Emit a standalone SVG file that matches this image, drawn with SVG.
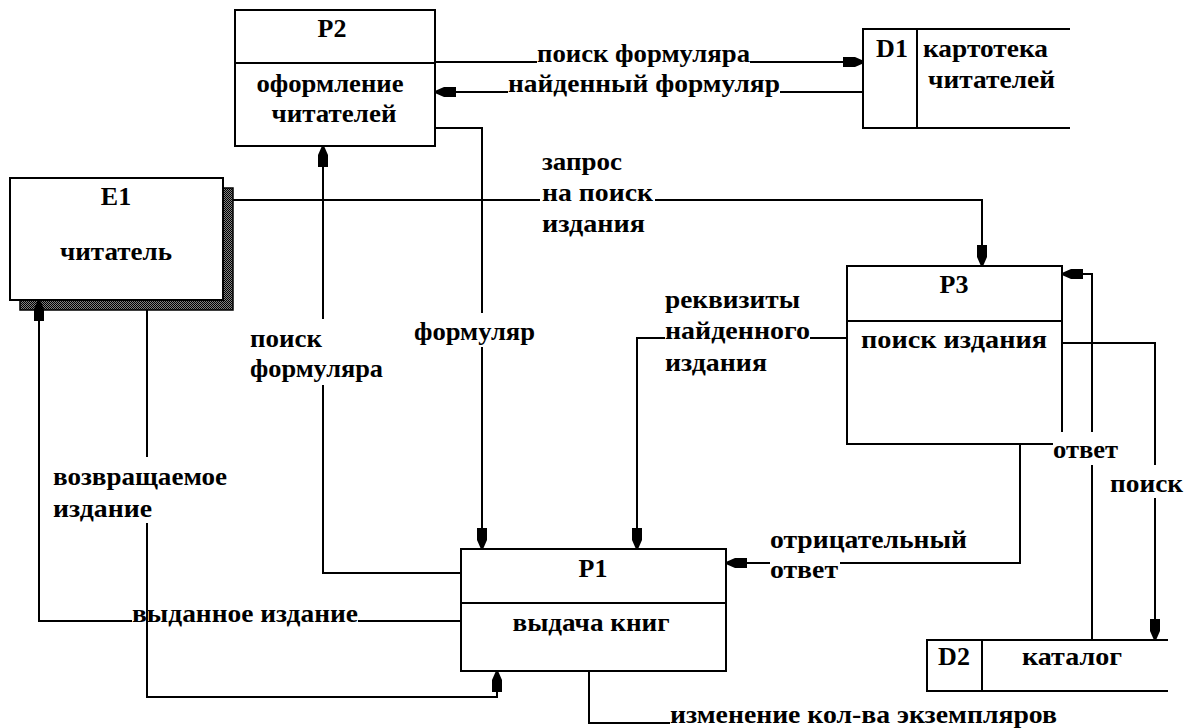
<svg xmlns="http://www.w3.org/2000/svg" width="1186" height="728" viewBox="0 0 1186 728">
  <defs>
    <style>
      .box { fill: none; stroke: #000; stroke-width: 2; }
      .ln { fill: none; stroke: #000; stroke-width: 2; stroke-linecap: butt; }
      .arr { marker-end: url(#tack); }
      .c { text-anchor: middle; }
    </style>
    <!-- blunt filled arrowhead used by every data flow -->
    <marker id="tack" viewBox="-21 -6 22 12" refX="0" refY="0" markerWidth="22" markerHeight="12" markerUnits="userSpaceOnUse" orient="auto">
      <path d="M0,-1.5 L-8,-5 L-20,-5 L-20,5 L-8,5 L0,1.5 Z" fill="#000"/>
    </marker>
    <!-- dithered fill for the external entity shadow -->
    <pattern id="dither" width="2" height="2" patternUnits="userSpaceOnUse">
      <rect width="2" height="2" fill="#808080"/>
      <rect width="1" height="1" fill="#000"/>
      <rect x="1" y="1" width="1" height="1" fill="#000"/>
    </pattern>
  </defs>

  <rect width="1186" height="728" fill="#fff"/>

  <g font-family="Liberation Serif, DejaVu Serif, serif" font-weight="bold" font-size="26" fill="#000">

  <!-- process P2 -->
  <g id="P2">
    <rect class="box" x="235" y="10" width="200" height="136"/>
    <line class="box" x1="235" y1="63" x2="435" y2="63"/>
    <text class="c" x="332" y="37">Р2</text>
    <text class="c" x="330" y="92" textLength="147" lengthAdjust="spacingAndGlyphs">оформление</text>
    <text class="c" x="334" y="122" textLength="125" lengthAdjust="spacingAndGlyphs">читателей</text>
  </g>

  <!-- data store D1 -->
  <g id="D1">
    <path class="box" d="M1070,29 H863 V128 H1070 M917,29 V128"/>
    <text class="c" x="892" y="57">D1</text>
    <text x="923" y="57" textLength="125" lengthAdjust="spacingAndGlyphs">картотека</text>
    <text x="928" y="88" textLength="127" lengthAdjust="spacingAndGlyphs">читателей</text>
  </g>

  <!-- external entity E1 -->
  <g id="E1">
    <path d="M223,188 H233 V310 H20 V300 H223 Z" fill="url(#dither)" stroke="#000" stroke-width="1.5"/>
    <rect class="box" x="10" y="178" width="213" height="122" fill="#fff"/>
    <text class="c" x="116" y="205">E1</text>
    <text class="c" x="116" y="260" textLength="112" lengthAdjust="spacingAndGlyphs">читатель</text>
  </g>

  <!-- process P3 (corner left open under the "ответ" label) -->
  <g id="P3">
    <path class="box" d="M1062,432 V266 H847 V444 H1053"/>
    <line class="box" x1="847" y1="321" x2="1062" y2="321"/>
    <text class="c" x="954" y="293">Р3</text>
    <text class="c" x="954" y="348" textLength="186" lengthAdjust="spacingAndGlyphs">поиск издания</text>
  </g>

  <!-- process P1 -->
  <g id="P1">
    <rect class="box" x="461" y="549" width="265" height="122"/>
    <line class="box" x1="461" y1="603" x2="726" y2="603"/>
    <text class="c" x="593" y="577">Р1</text>
    <text class="c" x="591" y="631" textLength="157" lengthAdjust="spacingAndGlyphs">выдача книг</text>
  </g>

  <!-- data store D2 -->
  <g id="D2">
    <path class="box" d="M1168,640 H927 V691 H1168 M982,640 V691"/>
    <text class="c" x="954" y="665">D2</text>
    <text class="c" x="1072" y="665" textLength="100" lengthAdjust="spacingAndGlyphs">каталог</text>
  </g>

  <!-- data flows -->
  <g id="connectors">
    <path class="ln" d="M435,62 H537"/>
    <path class="ln arr" d="M750,62 H863"/>

    <path class="ln" d="M863,92 H780"/>
    <path class="ln arr" d="M508,92 H436"/>

    <path class="ln" d="M435,128 H482 V313"/>
    <path class="ln arr" d="M482,347 V548"/>

    <path class="ln" d="M461,573 H323 V385"/>
    <path class="ln arr" d="M323,319 V147"/>

    <path class="ln" d="M233,200 H540"/>
    <path class="ln arr" d="M655,200 H982 V265"/>

    <path class="ln" d="M847,338 H810"/>
    <path class="ln arr" d="M665,338 H637 V548"/>

    <path class="ln" d="M1020,444 V563 H840"/>
    <path class="ln arr" d="M770,563 H727"/>

    <path class="ln" d="M1092,640 V465"/>
    <path class="ln arr" d="M1092,432 V274 H1063"/>

    <path class="ln" d="M1062,343 H1155 V465"/>
    <path class="ln arr" d="M1155,498 V639"/>

    <path class="ln" d="M461,621 H358"/>
    <path class="ln arr" d="M132,621 H39 V301"/>

    <path class="ln" d="M147,310 V457"/>
    <path class="ln arr" d="M147,523 V697 H497 V672"/>

    <path class="ln" d="M589,671 V723 H670"/>
  </g>

  <!-- flow labels -->
  <g id="flow-labels">
    <text x="537" y="62" textLength="213" lengthAdjust="spacingAndGlyphs">поиск формуляра</text>
    <text x="508" y="92" textLength="272" lengthAdjust="spacingAndGlyphs">найденный формуляр</text>
    <text x="414" y="340" textLength="121" lengthAdjust="spacingAndGlyphs">формуляр</text>
    <text x="250" y="347" textLength="72" lengthAdjust="spacingAndGlyphs">поиск</text>
    <text x="250" y="377" textLength="133" lengthAdjust="spacingAndGlyphs">формуляра</text>
    <text x="542" y="170" textLength="80" lengthAdjust="spacingAndGlyphs">запрос</text>
    <text x="542" y="201" textLength="111" lengthAdjust="spacingAndGlyphs">на поиск</text>
    <text x="542" y="232" textLength="103" lengthAdjust="spacingAndGlyphs">издания</text>
    <text x="665" y="308" textLength="135" lengthAdjust="spacingAndGlyphs">реквизиты</text>
    <text x="665" y="339" textLength="145" lengthAdjust="spacingAndGlyphs">найденного</text>
    <text x="665" y="371" textLength="102" lengthAdjust="spacingAndGlyphs">издания</text>
    <text x="770" y="548" textLength="197" lengthAdjust="spacingAndGlyphs">отрицательный</text>
    <text x="770" y="578" textLength="68" lengthAdjust="spacingAndGlyphs">ответ</text>
    <text x="1053" y="458" textLength="65" lengthAdjust="spacingAndGlyphs">ответ</text>
    <text x="1110" y="492" textLength="73" lengthAdjust="spacingAndGlyphs">поиск</text>
    <text x="53" y="485" textLength="174" lengthAdjust="spacingAndGlyphs">возвращаемое</text>
    <text x="53" y="517" textLength="99" lengthAdjust="spacingAndGlyphs">издание</text>
    <text x="132" y="622" textLength="226" lengthAdjust="spacingAndGlyphs">выданное издание</text>
    <text x="670" y="723" textLength="387" lengthAdjust="spacingAndGlyphs">изменение кол-ва экземпляров</text>
  </g>

  </g>
</svg>
